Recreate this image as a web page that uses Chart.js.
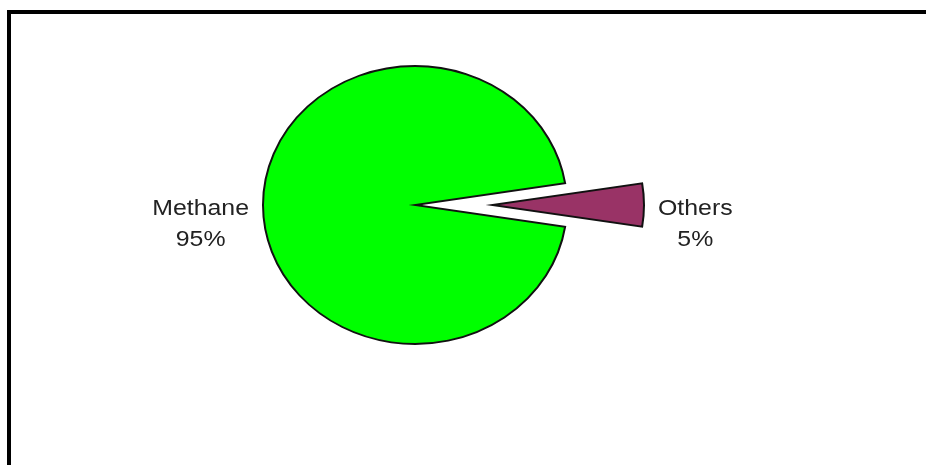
<!DOCTYPE html>
<html>
  <head>
    <meta name="viewport" content="width=device-width" charset="utf-8">
    <title>Gas composition</title>
    <script src="https://cdn.jsdelivr.net/npm/chart.js@4/dist/chart.umd.min.js"></script>
    <style>
      body { margin: 0; background: #fff; }
      #frame { position: absolute; left: 7px; top: 10px; width: 919px; height: 455px;
               border-top: 4px solid #000; border-left: 4px solid #000; }
      #gasChart { position: absolute; left: 0; top: 0; }
    </style>
  </head>
  <body>
    <div id="frame"></div>
    <canvas id="gasChart" width="926" height="465"></canvas>
    <script>
var gasNames = ['Methane', 'Others'];
var gasShares = [95, 5];
var sliceColors = ['#00ff00', '#993366'];

// how far each slice is pulled out from the centre, px
var explode = [0, 77];
// the original picture is a little squashed vertically
var squashY = 139 / 152;

var ctx = document.getElementById('gasChart').getContext('2d');

var explodePlugin = {
    id: 'explode',
    afterDatasetsUpdate: function (chart) {
        chart.getDatasetMeta(0).data.forEach(function (arc, i) {
            var mid = (arc.startAngle + arc.endAngle) / 2;
            arc.x += Math.cos(mid) * explode[i];
            arc.y += Math.sin(mid) * explode[i];
        });
    },
    beforeDatasetsDraw: function (chart) {
        var area = chart.chartArea;
        var cx = (area.left + area.right) / 2;
        var cy = (area.top + area.bottom) / 2;
        chart.ctx.save();
        chart.ctx.translate(cx, cy);
        chart.ctx.scale(1, squashY);
        chart.ctx.translate(-cx, -cy);
    },
    afterDatasetsDraw: function (chart) {
        chart.ctx.restore();
    }
};

var labelPlugin = {
    id: 'sideLabels',
    afterDraw: function (chart) {
        var c = chart.ctx;
        var total = gasShares.reduce(function (a, b) { return a + b; }, 0);
        var area = chart.chartArea;
        var cy = (area.top + area.bottom) / 2;
        c.save();
        c.font = '22px "Liberation Sans", Arial, sans-serif';
        c.fillStyle = '#222';
        c.textAlign = 'center';
        c.textBaseline = 'alphabetic';
        var stretch = 1.13;
        chart.getDatasetMeta(0).data.forEach(function (arc, i) {
            var mid = (arc.startAngle + arc.endAngle) / 2;
            var lines = [gasNames[i], Math.round(gasShares[i] / total * 100) + '%'];
            var w = Math.max.apply(null, lines.map(function (l) { return c.measureText(l).width; })) * stretch;
            var ax = arc.x + Math.cos(mid) * (arc.outerRadius + 14);
            var ay = cy + Math.sin(mid) * (arc.outerRadius + 14) * squashY;
            var tx = Math.cos(mid) < 0 ? ax - w / 2 : ax + w / 2;
            lines.forEach(function (line, j) {
                c.save();
                c.translate(tx, ay + 10 + j * 31);
                c.scale(stretch, 1);
                c.fillText(line, 0, 0);
                c.restore();
            });
        });
        c.restore();
    }
};

var gasChart = new Chart(ctx, {
    type: 'pie',
    data: {
        labels: gasNames,
        datasets: [{
            data: gasShares,
            backgroundColor: sliceColors,
            borderColor: '#111',
            borderWidth: 2,
            borderJoinStyle: 'miter'
        }]
    },
    options: {
        responsive: false,
        animation: false,
        rotation: 99,
        radius: 152,
        layout: { padding: { left: 0, right: 96, top: 0, bottom: 55 } },
        plugins: {
            legend: { display: false },
            tooltip: { enabled: false }
        }
    },
    plugins: [explodePlugin, labelPlugin]
});
    </script>
  </body>
</html>
